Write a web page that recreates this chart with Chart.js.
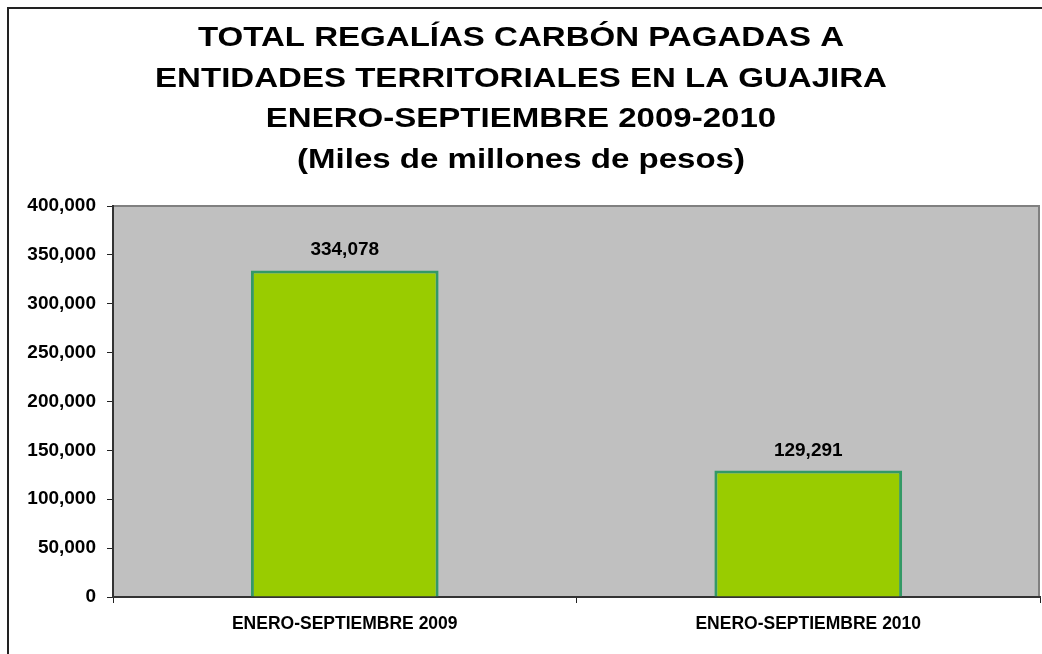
<!DOCTYPE html>
<html>
<head>
<meta charset="utf-8">
<script src="https://cdn.jsdelivr.net/npm/chart.js@4"></script>
<style>
  html, body { margin: 0; padding: 0; background: #fff; }
  #wrap { width: 1042px; height: 654px; }
</style>
</head>
<body>
<div id="wrap"><canvas id="myChart" width="1042" height="654"></canvas></div>
<script>
// datos
var categorias = ["ENERO-SEPTIEMBRE 2009", "ENERO-SEPTIEMBRE 2010"];
var regalias = [334078, 129291];
var titulo = [
    "TOTAL REGALÍAS CARBÓN PAGADAS A",
    "ENTIDADES TERRITORIALES EN LA GUAJIRA",
    "ENERO-SEPTIEMBRE 2009-2010",
    "(Miles de millones de pesos)"
];
var yMax = 400000;
var yPaso = 50000;

var fuente = "'Liberation Sans', Arial, sans-serif";

function fmt(v) {
    return v.toLocaleString('en-US');
}

// fondo gris del area de trazado + marco exterior
const fondo = {
    id: 'fondo',
    beforeDraw(chart) {
        const { ctx, chartArea: a } = chart;
        ctx.save();
        ctx.fillStyle = '#ffffff';
        ctx.fillRect(0, 0, chart.width, chart.height);
        ctx.strokeStyle = '#222';
        ctx.lineWidth = 2;
        ctx.beginPath();
        ctx.moveTo(8, chart.height + 5);
        ctx.lineTo(8, 8);
        ctx.lineTo(chart.width + 5, 8);
        ctx.stroke();
        ctx.fillStyle = '#C0C0C0';
        ctx.fillRect(a.left, a.top, a.right - a.left, a.bottom - a.top);
        ctx.strokeStyle = '#808080';
        ctx.lineWidth = 2;
        ctx.beginPath();
        ctx.moveTo(a.left, a.top);
        ctx.lineTo(a.right - 1, a.top);
        ctx.lineTo(a.right - 1, a.bottom);
        ctx.stroke();
        ctx.restore();
    }
};

// titulo (el original va algo ensanchado en horizontal)
const tituloPlugin = {
    id: 'tituloPlugin',
    afterDraw(chart) {
        const { ctx } = chart;
        ctx.save();
        ctx.font = "bold 28px " + fuente;
        ctx.fillStyle = '#000';
        ctx.textAlign = 'center';
        ctx.textBaseline = 'alphabetic';
        ctx.translate(chart.width / 2, 0);
        ctx.scale(1.18, 1);
        titulo.forEach(function (linea, i) {
            ctx.fillText(linea, 0, 46 + i * 40.5);
        });
        ctx.restore();
    }
};

// etiquetas de valor sobre las barras
const etiquetas = {
    id: 'etiquetas',
    afterDatasetsDraw(chart) {
        const { ctx } = chart;
        const meta = chart.getDatasetMeta(0);
        ctx.save();
        ctx.font = "bold 19px " + fuente;
        ctx.fillStyle = '#000';
        ctx.textAlign = 'center';
        ctx.textBaseline = 'alphabetic';
        meta.data.forEach(function (bar, i) {
            ctx.fillText(fmt(regalias[i]), bar.x, bar.y - 15);
        });
        ctx.restore();
    }
};

new Chart("myChart", {
    type: "bar",
    data: {
        labels: categorias,
        datasets: [{
            data: regalias,
            backgroundColor: '#99CC00',
            borderColor: '#339966',
            borderWidth: 3,
            categoryPercentage: 0.81,
            barPercentage: 0.5
        }]
    },
    options: {
        responsive: false,
        animation: false,
        layout: { padding: { left: 8, right: 2, top: 206, bottom: 0 } },
        plugins: {
            legend: { display: false },
            tooltip: { enabled: false },
            title: { display: false }
        },
        scales: {
            x: {
                grid: { display: true, offset: true, drawOnChartArea: false, tickLength: 6, color: '#222' },
                border: { color: '#333', width: 2 },
                ticks: { color: '#000', font: { family: fuente, size: 17.5, weight: 'bold' }, padding: 11 },
                afterFit(scale) { scale.height = 57; }
            },
            y: {
                min: 0,
                max: yMax,
                grid: { display: true, drawOnChartArea: false, tickLength: 6, color: '#222' },
                border: { color: '#333', width: 2 },
                ticks: {
                    stepSize: yPaso,
                    color: '#000',
                    padding: 11,
                    font: { family: fuente, size: 19, weight: 'bold' },
                    callback: function (v) { return fmt(v); }
                },
                afterFit(scale) { scale.width = 105; }
            }
        }
    },
    plugins: [fondo, etiquetas, tituloPlugin]
});
</script>
</body>
</html>
